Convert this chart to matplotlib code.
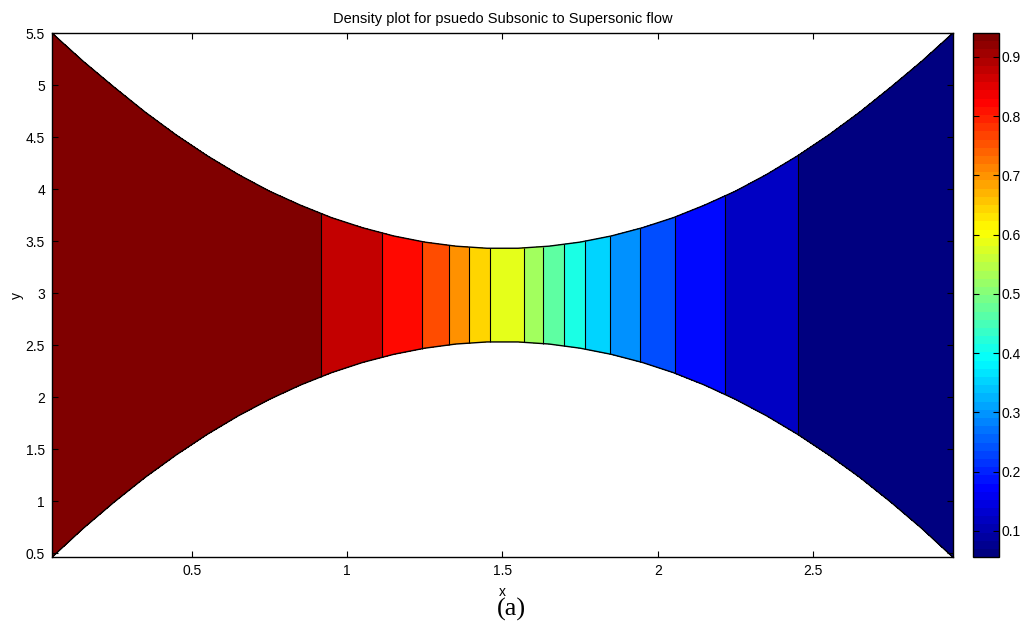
import numpy as np
import matplotlib
matplotlib.use("Agg")
from matplotlib import pyplot as plt
from matplotlib.colors import Normalize, ListedColormap
from matplotlib.cm import ScalarMappable
from matplotlib.ticker import FuncFormatter

# grid stations along the nozzle
x = [0.05, 0.15, 0.25, 0.35, 0.45, 0.55, 0.65, 0.75, 0.85, 0.95,
     1.05, 1.15, 1.25, 1.35, 1.45, 1.55, 1.65, 1.75, 1.85, 1.95,
     2.05, 2.15, 2.25, 2.35, 2.45, 2.55, 2.65, 2.75, 2.85, 2.95]
# upper and lower wall
y_up = [5.50, 5.23, 4.98, 4.74, 4.52, 4.32, 4.14, 3.98, 3.845, 3.725,
        3.628, 3.549, 3.49, 3.451, 3.431, 3.431, 3.451, 3.49, 3.549, 3.628,
        3.725, 3.845, 3.98, 4.14, 4.32, 4.52, 4.74, 4.98, 5.23, 5.50]
y_low = [0.46, 0.736, 0.99, 1.228, 1.444, 1.642, 1.82, 1.978, 2.116, 2.235,
         2.333, 2.411, 2.47, 2.51, 2.53, 2.53, 2.51, 2.47, 2.411, 2.333,
         2.235, 2.116, 1.978, 1.82, 1.642, 1.444, 1.228, 0.99, 0.736, 0.46]
# density at each station
rho = [0.995, 0.993, 0.991, 0.989, 0.985, 0.981, 0.974, 0.964, 0.955, 0.932,
       0.905, 0.866, 0.818, 0.747, 0.649, 0.605, 0.509, 0.422, 0.348, 0.288,
       0.2345, 0.195, 0.162, 0.136, 0.115, 0.097, 0.083, 0.072, 0.063, 0.0556]
levels = [0.0556, 0.1146, 0.1735, 0.2325, 0.2915, 0.3504, 0.4094, 0.4683, 0.5273,
          0.5862, 0.6452, 0.7042, 0.7631, 0.8221, 0.8810, 0.9400, 1.0]
cbar_ticks = [0.1, 0.2, 0.3, 0.4, 0.5, 0.6, 0.7, 0.8, 0.9]


def matlab_jet(n):
    t = np.linspace(0, 1, n)
    r = np.clip(1.5 - np.abs(4 * t - 3), 0, 1)
    g = np.clip(1.5 - np.abs(4 * t - 2), 0, 1)
    b = np.clip(1.5 - np.abs(4 * t - 1), 0, 1)
    return ListedColormap(np.column_stack([r, g, b]))


plt.rcParams['font.family'] = ['Liberation Sans', 'DejaVu Sans']

fig = plt.figure(figsize=(10.29, 6.24), dpi=100)
ax = fig.add_axes([0.0505, 0.107, 0.8756, 0.840])

X = np.vstack([x, x])
Y = np.vstack([y_low, y_up])
Z = np.vstack([rho, rho])
lev = np.array(levels)
mids = (lev[:-1] + lev[1:]) / 2
ax.contourf(X, Y, Z, levels=levels, cmap=matlab_jet(256), norm=Normalize(mids[0], mids[-1]))
ax.contour(X, Y, Z, levels=levels[1:-1], colors='k', linewidths=0.8)
ax.plot(x, y_up, color='k', lw=1.0)
ax.plot(x, y_low, color='k', lw=1.0)

ax.set_xlim(min(x), max(x))
ax.set_ylim(min(y_low), max(y_up))
ax.set_xticks([0.5, 1, 1.5, 2, 2.5])
ax.set_yticks([0.5, 1, 1.5, 2, 2.5, 3, 3.5, 4, 4.5, 5, 5.5])
fmt = FuncFormatter(lambda v, p: '%g' % v)
ax.xaxis.set_major_formatter(fmt)
ax.yaxis.set_major_formatter(fmt)
ax.tick_params(direction='in', top=True, right=True, length=4, labelsize=10, pad=5)
for s in ax.spines.values():
    s.set_linewidth(1.0)
ax.set_title("Density plot for psuedo Subsonic to Supersonic flow", fontsize=10.5, pad=7)
ax.set_xlabel("x", fontsize=10, labelpad=5)
ax.set_ylabel("y", fontsize=10, labelpad=1)

cax = fig.add_axes([0.9456, 0.107, 0.0253, 0.840])
sm = ScalarMappable(norm=Normalize(0.0556, 0.94), cmap=matlab_jet(64))
cb = fig.colorbar(sm, cax=cax, ticks=cbar_ticks)
cb.ax.yaxis.set_major_formatter(fmt)
cb.ax.tick_params(direction='in', left=True, right=True, length=4, labelsize=10, pad=2)
cb.outline.set_linewidth(1.0)

fig.text(0.497, 0.024, "(a)", family='Liberation Serif', fontsize=19, ha='center', va='center')

fig.savefig("out.png", dpi=100)
